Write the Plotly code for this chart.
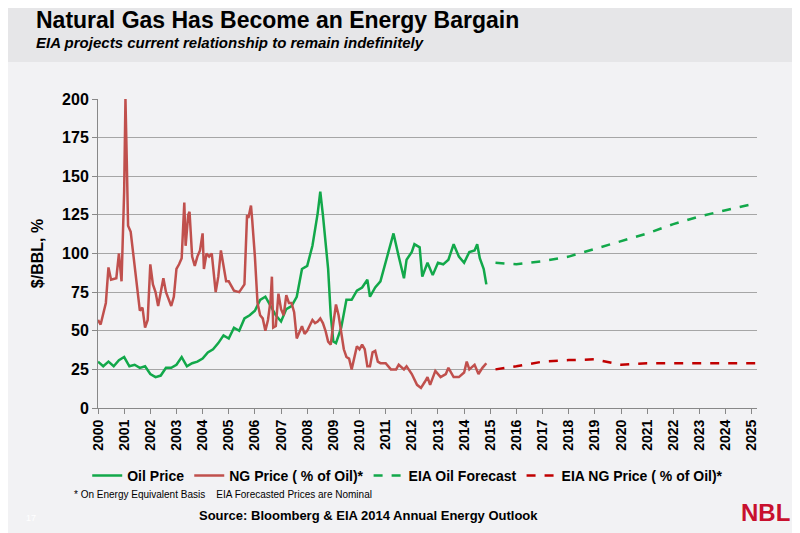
import plotly.graph_objects as go

oil_x = [2000.0,2000.2,2000.4,2000.6,2000.8,2001.0,2001.2,2001.4,2001.6,2001.8,2002.0,2002.2,2002.4,2002.6,2002.8,2003.0,2003.2,2003.4,2003.6,2003.8,2004.0,2004.2,2004.4,2004.6,2004.8,2005.0,2005.2,2005.4,2005.6,2005.8,2006.0,2006.2,2006.4,2006.6,2006.8,2007.0,2007.2,2007.4,2007.6,2007.8,2008.0,2008.2,2008.4,2008.5,2008.6,2008.8,2008.9,2009.0,2009.1,2009.3,2009.5,2009.7,2009.9,2010.1,2010.3,2010.4,2010.6,2010.8,2010.9,2011.1,2011.3,2011.5,2011.7,2011.8,2012.0,2012.1,2012.3,2012.4,2012.6,2012.8,2013.0,2013.2,2013.4,2013.6,2013.8,2014.0,2014.2,2014.4,2014.5,2014.6,2014.75,2014.85]
oil_y = [30,27,30,27,31,33,27,28,26,27,22,20,21,26,26,28,33,27,29,30,32,36,38,42,47,45,52,50,58,60,63,70,72,66,60,56,64,66,72,90,92,105,126,140,125,90,60,43,42,52,70,70,76,78,83,72,78,82,88,100,113,98,84,96,101,106,104,85,94,86,94,93,96,106,98,94,101,102,106,97,90,80]

ng_x = [2000.0,2000.1,2000.3,2000.4,2000.5,2000.7,2000.8,2000.9,2001.0,2001.05,2001.1,2001.15,2001.25,2001.35,2001.5,2001.6,2001.7,2001.8,2001.9,2002.0,2002.1,2002.2,2002.3,2002.4,2002.5,2002.6,2002.8,2002.9,2003.0,2003.1,2003.2,2003.3,2003.35,2003.45,2003.5,2003.6,2003.7,2003.8,2003.9,2004.0,2004.05,2004.15,2004.25,2004.35,2004.5,2004.6,2004.7,2004.9,2005.0,2005.2,2005.4,2005.6,2005.7,2005.75,2005.85,2005.9,2006.0,2006.1,2006.2,2006.3,2006.4,2006.5,2006.6,2006.65,2006.7,2006.8,2006.9,2007.0,2007.1,2007.2,2007.3,2007.4,2007.5,2007.6,2007.8,2007.9,2008.0,2008.2,2008.3,2008.4,2008.5,2008.6,2008.7,2008.8,2008.9,2009.0,2009.1,2009.2,2009.3,2009.4,2009.5,2009.6,2009.7,2009.9,2010.0,2010.1,2010.2,2010.3,2010.4,2010.5,2010.6,2010.7,2010.8,2011.0,2011.2,2011.4,2011.5,2011.7,2011.8,2012.0,2012.2,2012.35,2012.5,2012.6,2012.7,2012.9,2013.1,2013.3,2013.4,2013.6,2013.8,2014.0,2014.1,2014.2,2014.4,2014.55,2014.7,2014.85]
ng_y = [57,54,68,91,83,84,100,82,140,200,160,118,114,100,75,63,65,52,57,93,80,75,66,75,84,75,66,72,90,93,97,133,105,125,127,98,92,98,102,113,90,100,98,100,75,85,102,82,82,76,75,80,125,123,131,121,98,68,60,58,50,57,70,85,52,53,74,64,60,73,68,68,62,45,53,48,50,57,55,56,58,55,50,43,41,55,67,60,48,38,33,32,25,40,38,41,38,27,27,36,37,30,29,29,25,25,28,25,27,22,15,13,17,20,15,24,20,22,26,20,20,23,30,25,28,22,26,29]

fc_x = [2015.2,2016,2017,2018,2019,2020,2021,2022,2023,2024,2025,2025.3]
fc_oil = [94,93,95,98,103,108,113,119,124,128,132,133]
fc_ng = [25,27,30,31,31.5,28,29,29,29,29,29,29]

years = list(range(2000, 2026))

fig = go.Figure()
fig.add_trace(go.Scatter(x=oil_x, y=oil_y, mode="lines", name="<b>Oil Price</b>", line=dict(color="#12a84a", width=2.5)))
fig.add_trace(go.Scatter(x=ng_x, y=ng_y, mode="lines", name="<b>NG Price ( % of Oil)*</b>", line=dict(color="#c0504d", width=2.5)))
fig.add_trace(go.Scatter(x=fc_x, y=fc_oil, mode="lines", name="<b>EIA Oil Forecast</b>", line=dict(color="#12a84a", width=2.5, dash="dash")))
fig.add_trace(go.Scatter(x=fc_x, y=fc_ng, mode="lines", name="<b>EIA NG Price ( % of Oil)*</b>", line=dict(color="#c00000", width=2.5, dash="dash")))

OFF = 8
L, T = 98 - OFF, 99 - OFF
R, B = 800 - (757 - OFF), 533 - (408 - OFF)
fig.update_layout(
    width=800, height=533,
    paper_bgcolor="#f2f2f4", plot_bgcolor="#f2f2f4",
    margin=dict(l=L, r=R, t=T, b=B, autoexpand=False),
    font=dict(family="Liberation Sans, Arial", color="black"),
    showlegend=True,
    legend=dict(orientation="h", x=0.47, xanchor="center", y=-0.168, yanchor="top",
                font=dict(size=14, family="Liberation Sans Narrow, Liberation Sans"),
                bgcolor="rgba(0,0,0,0)", entrywidth=0),
    xaxis=dict(range=[2000, 2025.2], tickvals=years, ticktext=["<b>%d</b>" % y for y in years],
               tickangle=-90, tickfont=dict(size=14), showgrid=False, ticks="outside", ticklen=5,
               tickcolor="#888", showline=True, linecolor="#888", zeroline=False, automargin=False),
    yaxis=dict(range=[0, 200], tickfont=dict(size=16),
               tickvals=list(range(0, 201, 25)), ticktext=["<b>%d</b>" % v for v in range(0, 201, 25)],
               showgrid=True, gridcolor="#a6a6a6", gridwidth=1.3, showline=True, linecolor="#888",
               ticks="outside", ticklen=5, tickcolor="#888", zeroline=False, automargin=False,
               title=dict(text="<b>$/BBL, %</b>", font=dict(size=16), standoff=14)),
)
W, H = 800 - L - R, 533 - T - B
def pann(text, px, py, size, anchor="left", color="black", family=None):
    px -= OFF; py -= OFF
    fig.add_annotation(text=text, x=(px - L) / W, y=(533 - B - py) / H, xref="paper", yref="paper",
                       showarrow=False, xanchor=anchor, yanchor="middle",
                       font=dict(size=size, color=color, family=family or "Liberation Sans, Arial"))
fig.add_shape(type="rect", xref="paper", yref="paper", x0=-L / W, x1=(800 - L) / W,
              y0=(533 - B - 62 + OFF) / H, y1=(533 - B + OFF) / H, fillcolor="#e6e6e8", line=dict(width=0), layer="below")
pann("<b>Natural Gas Has Become an Energy Bargain</b>", 34, 20, 23, family="Liberation Sans Narrow, Liberation Sans")
pann("<b><i>EIA projects current relationship to remain indefinitely</i></b>", 34, 43, 15, family="Liberation Sans Narrow, Liberation Sans")
pann("* On Energy Equivalent Basis    EIA Forecasted Prices are Nominal", 72, 495, 10, family="Liberation Sans Narrow, Liberation Sans")
pann("<b>Source: Bloomberg &amp; EIA 2014 Annual Energy Outlook</b>", 368, 515, 13, anchor="center")
pann("17", 24, 518, 9, color="#ffffff")
pann("<b>NBL</b>", 765, 512, 24, anchor="center", color="#c8102e", family="Liberation Sans Narrow, Liberation Sans")
fig.write_html("out.html")
